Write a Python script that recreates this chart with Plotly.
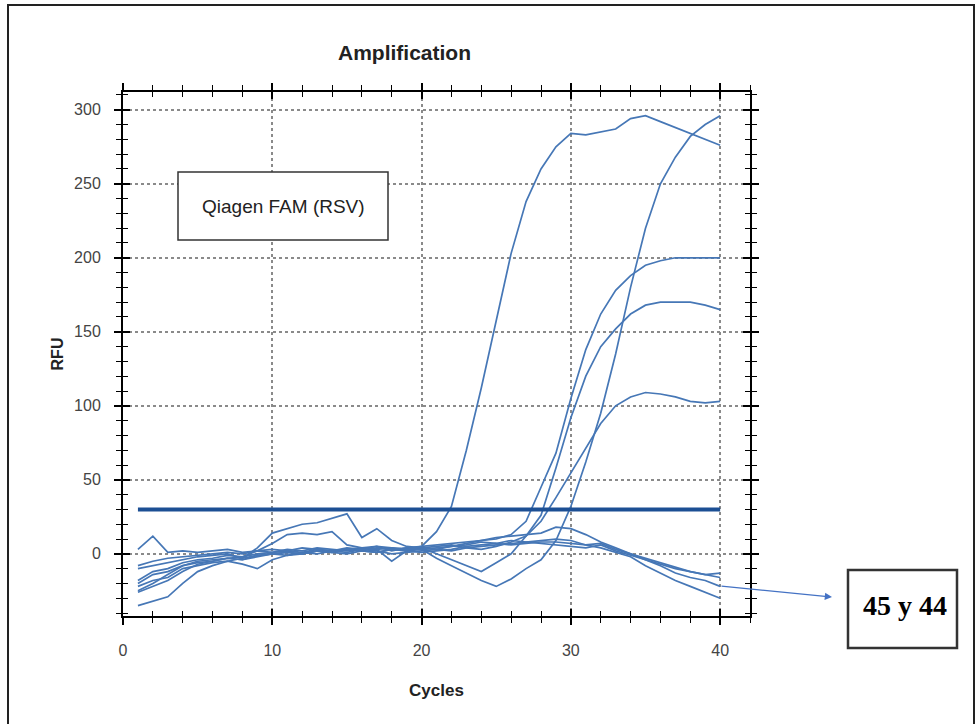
import plotly.graph_objects as go

cycles = list(range(1, 41))

curve_a = [-8, -5, -3, -2, -1, 0, 1, 0, 2, 1, 3, 2, 4, 3, 2, 4, 3, 4, 3, 5,
           15, 32, 70, 112, 158, 203, 238, 260, 275, 284, 283, 285, 287, 294, 296, 292, 288, 284, 280, 276]
curve_b = [-20, -14, -12, -8, -6, -5, -3, -4, -1, 0, 1, 0, 2, 1, 3, 2, 1, 3, 4, 3,
           -3, -8, -13, -18, -22, -17, -10, -4, 9, 32, 62, 95, 135, 180, 220, 250, 268, 282, 290, 296]
curve_c = [-25, -20, -14, -8, -5, -4, -3, -2, 2, 7, 13, 14, 13, 15, 6, 4, 5, 2, 4, 5,
           6, 7, 8, 9, 10, 13, 22, 45, 68, 105, 138, 162, 178, 188, 195, 198, 200, 200, 200, 200]
curve_d = [-18, -12, -10, -6, -4, -3, -1, -2, 0, 1, 2, 1, 3, 2, 3, 4, 3, -5, 2, 4,
           0, -4, -8, -12, -6, 0, 12, 26, 58, 92, 120, 140, 152, 162, 168, 170, 170, 170, 168, 165]
curve_e = [3, 12, 1, 2, 1, 2, 3, 1, 2, 3, 2, 4, 3, 2, 4, 3, 5, 4, 3, 4,
           5, 6, 4, 3, 5, 8, 12, 22, 38, 55, 72, 88, 100, 106, 109, 108, 106, 103, 102, 103]
curve_f = [-22, -18, -16, -10, -8, -6, -5, -7, -10, -4, -1, 0, 2, 1, 3, 2, 4, 3, 2, 3,
           4, 5, 6, 8, 7, 9, 8, 7, 6, 5, 4, 6, 2, -1, -4, -7, -10, -12, -14, -16]
curve_g = [-10, -8, -6, -4, -2, -1, 0, -3, 4, 14, 17, 20, 21, 24, 27, 11, 17, 9, 5, 4,
           3, 5, 7, 9, 11, 12, 13, 14, 18, 17, 13, 8, 4, 0, -4, -8, -13, -16, -18, -22]
curve_h = [-26, -22, -18, -12, -7, -5, -3, -4, -2, 0, -1, 1, 0, 2, 1, 3, 2, 0, 1, 2,
           3, 2, 4, 5, 6, 7, 8, 9, 10, 9, 6, 4, 1, -2, -8, -13, -18, -22, -26, -30]
curve_i = [-35, -32, -29, -20, -12, -8, -5, -3, -1, 0, 1, 0, 2, 1, 0, 2, 1, 3, 2, 1,
           2, 3, 5, 6, 7, 6, 7, 8, 8, 7, 6, 7, 3, 0, -3, -6, -9, -12, -14, -13]

curves = [curve_a, curve_b, curve_c, curve_d, curve_e, curve_f, curve_g, curve_h, curve_i]
threshold = 30

title_text = "Amplification"
x_title = "Cycles"
y_title = "RFU"
legend_text = "Qiagen FAM (RSV)"
note_text = "45 y 44"

# plot area geometry (pixels)
W, H = 978, 724
L, R, T, B = 123, 228, 92, 108
PW, PH = W - L - R, H - T - B


def px(x):
    return (x - L) / PW


def py(y):
    return (H - B - y) / PH


fig = go.Figure()
for c in curves:
    fig.add_trace(go.Scatter(x=cycles, y=c, mode="lines",
                             line=dict(color="#4677b6", width=1.7),
                             showlegend=False, hoverinfo="skip"))
fig.add_trace(go.Scatter(x=[cycles[0], cycles[-1]], y=[threshold, threshold], mode="lines",
                         line=dict(color="#1c4f94", width=4), showlegend=False))
# dummy trace for overlay axes (inside ticks)
fig.add_trace(go.Scatter(x=[cycles[0], cycles[-1]], y=[threshold, threshold], mode="lines",
                         line=dict(color="rgba(0,0,0,0)", width=0), xaxis="x2", yaxis="y2",
                         showlegend=False, hoverinfo="skip"))

narrow = "Liberation Sans Narrow, Liberation Sans, Arial"

axis_common = dict(showline=True, linecolor="black", linewidth=2, mirror="allticks",
                   ticks="outside", ticklen=7, tickwidth=1.5, tickcolor="black",
                   zeroline=False, showgrid=True, gridcolor="#8a8a8a", griddash="dot",
                   gridwidth=1.5, tickfont=dict(family=narrow, size=16, color="#444"))

fig.update_layout(
    width=W, height=H,
    margin=dict(l=L, r=R, t=T, b=B),
    plot_bgcolor="white", paper_bgcolor="white",
    xaxis=dict(range=[0, 42], tick0=0, dtick=10,
               minor=dict(dtick=2, ticks="outside", ticklen=5, tickcolor="black", tickwidth=1.3, showgrid=False),
               ticklabelstandoff=12,
               title=dict(text="<b>" + x_title + "</b>", font=dict(family=narrow, size=17, color="#222"), standoff=26),
               **axis_common),
    yaxis=dict(range=[-42, 312], tick0=0, dtick=50,
               minor=dict(dtick=10, ticks="outside", ticklen=5, tickcolor="black", tickwidth=1.3, showgrid=False),
               ticklabelstandoff=10,
               title=dict(text="<b>" + y_title + "</b>", font=dict(family=narrow, size=16, color="#222"), standoff=6),
               **axis_common),
    xaxis2=dict(range=[0, 42], overlaying="x", anchor="y2", tick0=0, dtick=10,
                ticks="inside", ticklen=7, tickwidth=1.5, tickcolor="black",
                minor=dict(dtick=2, ticks="inside", ticklen=5, tickcolor="black", tickwidth=1.3),
                showticklabels=False, showgrid=False, zeroline=False, showline=False, mirror="allticks"),
    yaxis2=dict(range=[-42, 312], overlaying="y", anchor="x2", tick0=0, dtick=50,
                ticks="inside", ticklen=7, tickwidth=1.5, tickcolor="black",
                minor=dict(dtick=10, ticks="inside", ticklen=5, tickcolor="black", tickwidth=1.3),
                showticklabels=False, showgrid=False, zeroline=False, showline=False, mirror="allticks"),
    shapes=[
        dict(type="rect", xref="paper", yref="paper", x0=px(8), x1=px(974), y0=py(740), y1=py(5),
             line=dict(color="#222", width=2), layer="below"),
        dict(type="rect", xref="paper", yref="paper", x0=px(178), x1=px(388), y0=py(240), y1=py(172),
             line=dict(color="#333", width=1.5), fillcolor="white"),
        dict(type="rect", xref="paper", yref="paper", x0=px(848), x1=px(957), y0=py(648), y1=py(570),
             line=dict(color="#333", width=2.5), fillcolor="white"),
    ],
    annotations=[
        dict(text="<b>" + title_text + "</b>", xref="paper", yref="paper", x=px(404), y=py(52),
             xanchor="center", yanchor="middle",
             showarrow=False, font=dict(family=narrow, size=21, color="#222")),
        dict(text=legend_text, xref="paper", yref="paper", x=px(283), y=py(207),
             xanchor="center", yanchor="middle",
             showarrow=False, font=dict(family="Liberation Sans, Arial", size=19, color="#222")),
        dict(text="<b>" + note_text + "</b>", xref="paper", yref="paper", x=px(905), y=py(605),
             xanchor="center", yanchor="middle",
             showarrow=False, font=dict(family="Liberation Serif, Times New Roman", size=28, color="black")),
        dict(text="", xref="paper", yref="paper", x=px(832), y=py(597),
             ax=-112, ay=-11, showarrow=True, arrowhead=2, arrowsize=1.2, arrowwidth=1.2,
             arrowcolor="#4472c4"),
    ],
)

fig.write_html("out.html", config={"displayModeBar": False},
               post_script="document.body.style.margin='0';")
